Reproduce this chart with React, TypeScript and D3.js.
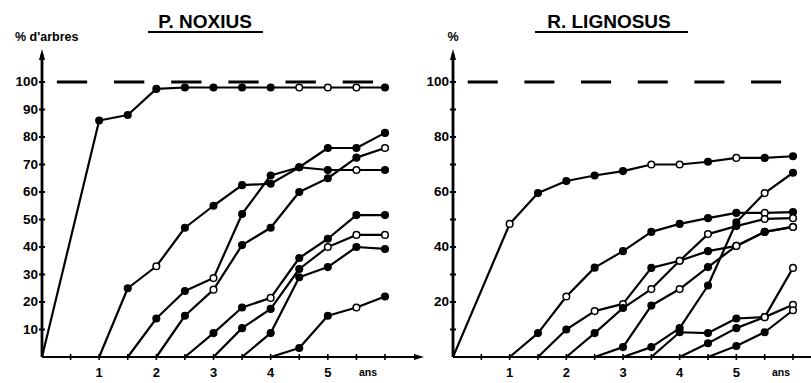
import * as d3 from 'd3';
import React, { useEffect, useRef } from 'react';

// [year, % of trees] per cohort
const noxiusCurves = [
  [[0, 0], [1, 86], [1.5, 88], [2, 97.5], [2.5, 98], [3, 98], [3.5, 98], [4, 98], [4.5, 98], [5, 98], [5.5, 98], [6, 98]],
  [[1, 0], [1.5, 25], [2, 33], [2.5, 47], [3, 55], [3.5, 62.5], [4, 63], [4.5, 69], [5, 76], [5.5, 76], [6, 81.5]],
  [[1.5, 0], [2, 14], [2.5, 24], [3, 28.7], [3.5, 52], [4, 66], [4.5, 69], [5, 68], [5.5, 68], [6, 68]],
  [[2, 0], [2.5, 15], [3, 24.5], [3.5, 40.7], [4, 47], [4.5, 60], [5, 65], [5.5, 72.5], [6, 76]],
  [[2.5, 0], [3, 8.7], [3.5, 18], [4, 21.5], [4.5, 36], [5, 43], [5.5, 51.6], [6, 51.6]],
  [[3, 0], [3.5, 10.5], [4, 17.5], [4.5, 32], [5, 40], [5.5, 44.4], [6, 44.4]],
  [[3.5, 0], [4, 8.7], [4.5, 29], [5, 32.7], [5.5, 40], [6, 39.3]],
  [[4, 0], [4.5, 3.3], [5, 15], [5.5, 18], [6, 22]],
];

const lignosusCurves = [
  [[0, 0], [1, 48.4], [1.5, 59.6], [2, 64], [2.5, 66], [3, 67.6], [3.5, 70], [4, 70], [4.5, 71], [5, 72.4], [5.5, 72.4], [6, 73]],
  [[1, 0], [1.5, 8.7], [2, 22], [2.5, 32.5], [3, 38.5], [3.5, 45.5], [4, 48.4], [4.5, 50.5], [5, 52.4], [5.5, 52.4], [6, 52.7]],
  [[1.5, 0], [2, 10], [2.5, 16.7], [3, 19.3], [3.5, 32.4], [4, 35], [4.5, 38.5], [5, 40.4], [5.5, 45.5], [6, 47.3]],
  [[2, 0], [2.5, 8.7], [3, 17.8], [3.5, 24.7], [4, 35], [4.5, 44.7], [5, 47.6], [5.5, 50.2], [6, 50.5]],
  [[2.5, 0], [3, 3.6], [3.5, 18.7], [4, 24.7], [4.5, 32.7], [5, 40.4], [5.5, 45.5], [6, 47.3]],
  [[3, 0], [3.5, 3.6], [4, 10.5], [4.5, 26], [5, 49], [5.5, 59.6], [6, 67]],
  [[3.5, 0], [4, 9], [4.5, 8.7], [5, 14], [5.5, 14.5], [6, 32.4]],
  [[4, 0], [4.5, 5], [5, 10.5], [5.5, 14.5], [6, 19]],
  [[4.5, 0], [5, 4], [5.5, 9], [6, 17]],
];

// years where the marker is drawn hollow
const noxiusOpen = [[4.5, 5, 5.5], [2], [3, 5.5], [3, 6], [4], [5, 5.5, 6], [], [5.5]];
const lignosusOpen = [[1, 3.5, 4, 5], [2, 5.5], [2.5, 3, 4, 5, 6], [3.5, 4, 4.5, 5.5, 6], [4, 5, 6], [5.5], [5.5, 6], [5.5, 6], [6]];

const noxiusYTicks = [10, 20, 30, 40, 50, 60, 70, 80, 90, 100];
const lignosusYTicks = [20, 40, 60, 80, 100];
const yearTicks = [1, 2, 3, 4, 5];
const unitLabel = 'ans';

const FONT = "'Liberation Sans', Arial, sans-serif";

const App = () => {
  const ref = useRef(null);

  useEffect(() => {
    const svg = d3.select(ref.current);
    svg.selectAll('*').remove();

    const y = d3.scaleLinear().domain([0, 100]).range([357, 82]);

    const panels = [
      { title: 'P. NOXIUS', titleX: 205, ul: [148, 263], yLabel: "% d'arbres", yLabelX: 15, yLabelAnchor: 'start',
        curves: noxiusCurves, open: noxiusOpen, ticks: noxiusYTicks, x: d3.scaleLinear().domain([0, 6]).range([42, 385]), axisEnd: 420, unitX: 368 },
      { title: 'R. LIGNOSUS', titleX: 609, ul: [535, 688], yLabel: '%', yLabelX: 453, yLabelAnchor: 'middle',
        curves: lignosusCurves, open: lignosusOpen, ticks: lignosusYTicks, x: d3.scaleLinear().domain([0, 6]).range([453, 793]), axisEnd: 811, unitX: 781 },
    ];

    panels.forEach(p => {
      const g = svg.append('g');
      const x0 = p.x(0);

      // title + underline
      g.append('text').attr('x', p.titleX).attr('y', 28).attr('text-anchor', 'middle')
        .style('font-family', FONT).style('font-weight', 700).style('font-size', '19px').text(p.title);
      g.append('line').attr('x1', p.ul[0]).attr('x2', p.ul[1]).attr('y1', 32).attr('y2', 32)
        .attr('stroke', '#000').attr('stroke-width', 2.2);

      g.append('text').attr('x', p.yLabelX).attr('y', 41).attr('text-anchor', p.yLabelAnchor)
        .style('font-family', FONT).style('font-weight', 700).style('font-size', '12.5px').text(p.yLabel);

      // axes
      g.append('line').attr('x1', x0).attr('x2', x0).attr('y1', y(0)).attr('y2', 54)
        .attr('stroke', '#000').attr('stroke-width', 2.8);
      g.append('path').attr('d', `M${x0},49 L${x0 - 3},60 L${x0 + 3},60 Z`).attr('fill', '#000');
      g.append('line').attr('x1', x0).attr('x2', p.axisEnd).attr('y1', y(0)).attr('y2', y(0))
        .attr('stroke', '#000').attr('stroke-width', 2.2);
      if (p.axisEnd < 800) {
        g.append('path').attr('d', `M${p.axisEnd + 4},${y(0)} L${p.axisEnd - 6},${y(0) - 3} L${p.axisEnd - 6},${y(0) + 3} Z`).attr('fill', '#000');
      }

      // y ticks every 10
      d3.range(10, 101, 10).forEach(v => {
        g.append('line').attr('x1', x0 - 3).attr('x2', x0 + 3).attr('y1', y(v)).attr('y2', y(v))
          .attr('stroke', '#000').attr('stroke-width', 2);
      });
      g.selectAll('text.ytick').data(p.ticks).enter().append('text')
        .attr('class', 'ytick')
        .attr('x', x0 - 4).attr('y', v => y(v)).attr('dy', '0.3em').attr('text-anchor', 'end')
        .style('font-family', FONT).style('font-weight', 700).style('font-size', '13.5px')
        .text(v => v);

      // x ticks every half year
      d3.range(0.5, 6.01, 0.5).forEach(t => {
        g.append('line').attr('x1', p.x(t)).attr('x2', p.x(t)).attr('y1', y(0) - 3).attr('y2', y(0) + 3)
          .attr('stroke', '#000').attr('stroke-width', 1.6);
      });
      g.selectAll('text.xtick').data(yearTicks).enter().append('text')
        .attr('class', 'xtick')
        .attr('x', t => p.x(t)).attr('y', 377).attr('text-anchor', 'middle')
        .style('font-family', FONT).style('font-weight', 700).style('font-size', '13px')
        .text(t => t);
      g.append('text').attr('x', p.unitX).attr('y', 376).attr('text-anchor', 'middle')
        .style('font-family', FONT).style('font-weight', 700).style('font-size', '10.5px').text(unitLabel);

      // dashed 100% line
      const unit = p.x(1) - p.x(0);
      g.append('line').attr('x1', p.x(0.26)).attr('x2', p.x(0.26) + 5 * unit + 0.53 * unit)
        .attr('y1', y(100)).attr('y2', y(100))
        .attr('stroke', '#000').attr('stroke-width', 3)
        .attr('stroke-dasharray', `${0.53 * unit},${0.47 * unit}`);

      const line = d3.line().x(d => p.x(d[0])).y(d => y(d[1]));

      p.curves.forEach((c, i) => {
        g.append('path').datum(c).attr('d', line)
          .attr('fill', 'none').attr('stroke', '#000').attr('stroke-width', 2.2)
          .attr('stroke-linejoin', 'round');
        g.selectAll(null).data(c.filter(d => d[1] > 0)).enter().append('circle')
          .attr('cx', d => p.x(d[0])).attr('cy', d => y(d[1])).attr('r', 3.3)
          .attr('fill', d => (p.open[i].includes(d[0]) ? '#fff' : '#000'))
          .attr('stroke', '#000').attr('stroke-width', 1.5);
      });
    });
  }, []);

  return (
    <svg ref={ref} width={811} height={383}
      style={{ position: 'absolute', left: 0, top: 0, background: '#fff' }} />
  );
};

export default App;
